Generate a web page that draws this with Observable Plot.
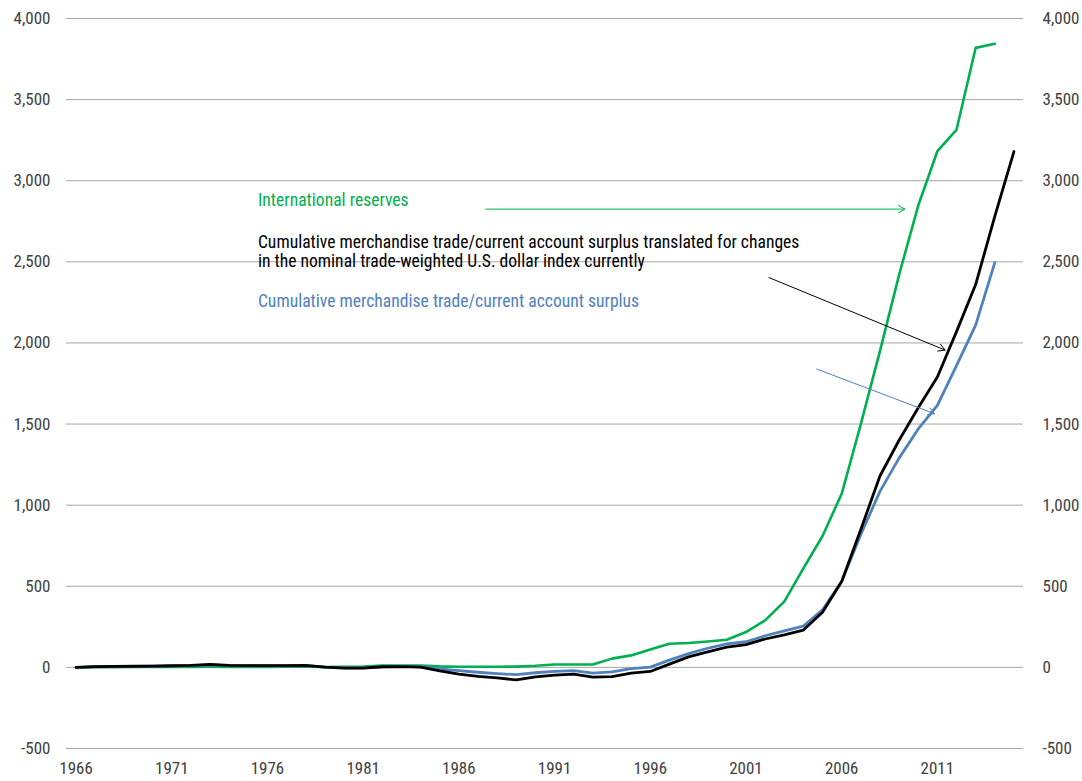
<!DOCTYPE html>
<html>
<head>
<meta charset="utf-8">
<script src="https://cdn.jsdelivr.net/npm/d3@7"></script>
<script src="https://cdn.jsdelivr.net/npm/@observablehq/plot@0.6"></script>
<style>
  html, body { margin: 0; padding: 0; background: #fff; }
  #chart svg { display: block; }
</style>
</head>
<body>
<div id="chart"></div>
<script>
const years = [1966,1967,1968,1969,1970,1971,1972,1973,1974,1975,1976,1977,1978,1979,1980,1981,1982,1983,1984,1985,1986,1987,1988,1989,1990,1991,1992,1993,1994,1995,1996,1997,1998,1999,2000,2001,2002,2003,2004,2005,2006,2007,2008,2009,2010,2011,2012,2013,2014,2015];

// International reserves (1966–2014)
const reserves = [0,1,1,2,2,3,3,4,3,3,3,4,5,2,3,5,12,12,12,6,4,4,4,5,10,18,18,18,54,74,110,146,150,160,170,218,290,405,610,810,1070,1500,1950,2420,2847,3182,3314,3819,3844];

// Cumulative surplus translated for dollar index changes (1966–2015)
const translated = [0,5,6,7,8,10,12,18,12,11,11,11,12,2,-5,-5,4,5,2,-22,-42,-55,-65,-77,-58,-48,-42,-60,-57,-35,-25,20,65,95,125,140,175,200,230,340,530,850,1180,1400,1600,1790,2070,2360,2780,3180];

// Cumulative merchandise trade/current account surplus (1966–2014)
const cumulative = [0,4,5,6,7,9,11,15,11,10,10,10,11,2,-3,-3,4,6,4,-10,-20,-30,-38,-45,-33,-25,-20,-35,-28,-8,2,45,85,118,145,158,195,225,255,355,530,820,1085,1290,1470,1615,1860,2110,2495];

const yTicks = [-500,0,500,1000,1500,2000,2500,3000,3500,4000];
const xTicks = [1966,1971,1976,1981,1986,1991,1996,2001,2006,2011];

const seriesNames = ["International reserves", "Cumulative merchandise trade/current account surplus translated for changes\nin the nominal trade-weighted U.S. dollar index currently", "Cumulative merchandise trade/current account surplus"];
const seriesColors = ["#00b050", "#000000", "#4f81bd"];

// annotation anchors in data units (year, value)
const labelX = [1975.5, 1975.5, 1975.5];
const labelY = [2880, 2565, 2262];
const arrowX1 = [1987.4, 2002.2, 2004.7];
const arrowY1 = [2825, 2403, 1839];
const arrowX2 = [2009.3, 2011.4, 2010.85];
const arrowY2 = [2825, 1956, 1564];

const toRows = (vals) => vals.map((v, i) => ({year: years[i], value: v}));
const labels = seriesNames.map((t, i) => ({text: t, x: labelX[i], y: labelY[i], color: seriesColors[i]}));
const arrows = seriesNames.map((t, i) => ({x1: arrowX1[i], y1: arrowY1[i], x2: arrowX2[i], y2: arrowY2[i], color: seriesColors[i]}));

const fmt = d => d.toLocaleString("en-US");
const font = "'Liberation Sans Narrow', 'Arial Narrow', 'Roboto Condensed', sans-serif";

const chart = Plot.plot({
  width: 1082,
  height: 781,
  marginLeft: 66,
  marginRight: 59,
  marginTop: 18,
  marginBottom: 33,
  style: {fontFamily: font, fontSize: "17px", color: "#404040", background: "#fff"},
  x: {domain: [1965.5, 2015.5], axis: null},
  y: {domain: [-500, 4000], axis: null},
  marks: [
    Plot.ruleY(yTicks, {stroke: "#a6a6a6", strokeWidth: 1}),
    Plot.axisY(yTicks, {anchor: "left", tickSize: 0, tickPadding: 16, tickFormat: fmt, fontSize: 17, fill: "#404040"}),
    Plot.axisY(yTicks, {anchor: "right", tickSize: 0, tickPadding: 19, tickFormat: fmt, fontSize: 17, fill: "#404040"}),
    Plot.axisX(xTicks, {anchor: "bottom", tickSize: 0, tickPadding: 13, tickFormat: d => String(d), fontSize: 17, fill: "#404040"}),
    Plot.line(toRows(reserves), {x: "year", y: "value", stroke: seriesColors[0], strokeWidth: 2.6}),
    Plot.line(toRows(cumulative), {x: "year", y: "value", stroke: seriesColors[2], strokeWidth: 2.8}),
    Plot.line(toRows(translated), {x: "year", y: "value", stroke: seriesColors[1], strokeWidth: 2.8}),
    Plot.arrow(arrows, {x1: "x1", y1: "y1", x2: "x2", y2: "y2", stroke: "color", strokeWidth: 1, headLength: 11, bend: 0}),
    Plot.text(labels, {x: "x", y: "y", text: "text", fill: "color", textAnchor: "start", fontSize: 17.6, lineHeight: 1.09})
  ]
});
document.getElementById("chart").appendChild(chart);
</script>
</body>
</html>
